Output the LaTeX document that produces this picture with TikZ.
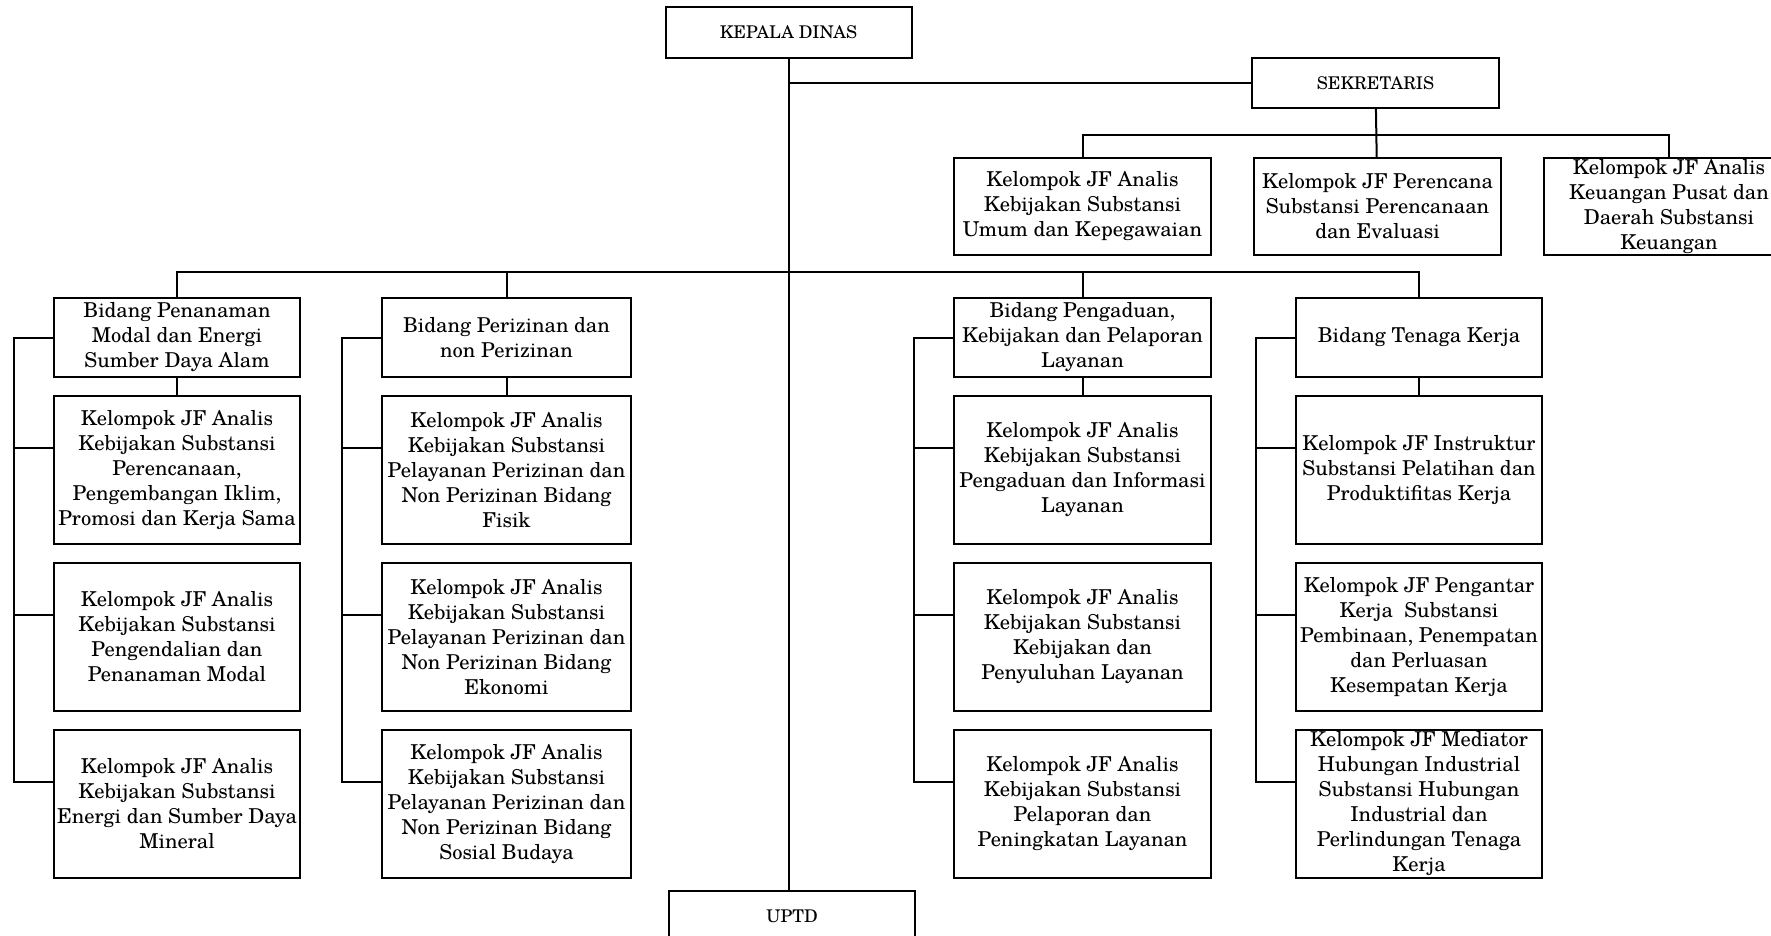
\documentclass[tikz,border=0pt]{standalone}
\usepackage{fontspec}
\setmainfont{texgyreschola}[Extension=.otf, UprightFont=*-regular, BoldFont=*-bold]
\usetikzlibrary{positioning}

\begin{document}
\begin{tikzpicture}[x=1pt,y=-1pt,line width=2pt,
  every node/.style={shape=rectangle,draw,align=center,inner sep=0pt},
  head/.style={minimum width=246pt,minimum height=51pt,font=\fontsize{17.5pt}{20pt}\selectfont},
  unit/.style={font=\fontsize{20.5pt}{25pt}\selectfont},
  bidang/.style={unit,minimum height=79pt},
  jf/.style={unit,minimum height=148pt},
  seksi/.style={unit,minimum height=97pt},
  col1/.style={minimum width=246pt},
  col2/.style={minimum width=249pt},
  col3/.style={minimum width=257pt},
  col4/.style={minimum width=246pt},
  ]
  \useasboundingbox (0,0) rectangle (1771,936);
  % create the nodes
  \node (kepala)[head] at (788.5,32.5) {KEPALA DINAS};
  \node (sek)[head, minimum width=247pt, minimum height=50pt] at (1375.5,83) {SEKRETARIS};
  \node (uptd)[head] at (792,916.5) {UPTD};

  \node (s1)[seksi, col3] at (1082.5,206.5) {Kelompok JF Analis\\Kebijakan Substansi\\Umum dan Kepegawaian};
  \node (s2)[seksi, minimum width=247pt, right=41pt of s1] {Kelompok JF Perencana\\Substansi Perencanaan\\dan Evaluasi};
  \node (s3)[seksi, minimum width=250pt, right=41pt of s2] {Kelompok JF Analis\\Keuangan Pusat dan\\Daerah Substansi\\Keuangan};

  \node (b1)[bidang, col1] at (177,337.5) {Bidang Penanaman\\Modal dan Energi\\Sumber Daya Alam};
  \node (b2)[bidang, col2, right=80pt of b1] {Bidang Perizinan dan\\non Perizinan};
  \node (b3)[bidang, col3] at (1082.5,337.5) {Bidang Pengaduan,\\Kebijakan dan Pelaporan\\Layanan};
  \node (b4)[bidang, col4, right=83pt of b3] {Bidang Tenaga Kerja};

  \node (k11)[jf, col1, below=17pt of b1] {Kelompok JF Analis\\Kebijakan Substansi\\Perencanaan,\\Pengembangan Iklim,\\Promosi dan Kerja Sama};
  \node (k12)[jf, col1, below=17pt of k11] {Kelompok JF Analis\\Kebijakan Substansi\\Pengendalian dan\\Penanaman Modal};
  \node (k13)[jf, col1, below=17pt of k12] {Kelompok JF Analis\\Kebijakan Substansi\\Energi dan Sumber Daya\\Mineral};

  \node (k21)[jf, col2, below=17pt of b2] {Kelompok JF Analis\\Kebijakan Substansi\\Pelayanan Perizinan dan\\Non Perizinan Bidang\\Fisik};
  \node (k22)[jf, col2, below=17pt of k21] {Kelompok JF Analis\\Kebijakan Substansi\\Pelayanan Perizinan dan\\Non Perizinan Bidang\\Ekonomi};
  \node (k23)[jf, col2, below=17pt of k22] {Kelompok JF Analis\\Kebijakan Substansi\\Pelayanan Perizinan dan\\Non Perizinan Bidang\\Sosial Budaya};

  \node (k31)[jf, col3, below=17pt of b3] {Kelompok JF Analis\\Kebijakan Substansi\\Pengaduan dan Informasi\\Layanan};
  \node (k32)[jf, col3, below=17pt of k31] {Kelompok JF Analis\\Kebijakan Substansi\\Kebijakan dan\\Penyuluhan Layanan};
  \node (k33)[jf, col3, below=17pt of k32] {Kelompok JF Analis\\Kebijakan Substansi\\Pelaporan dan\\Peningkatan Layanan};

  \node (k41)[jf, col4, below=17pt of b4] {Kelompok JF Instruktur\\Substansi Pelatihan dan\\Produktifitas Kerja};
  \node (k42)[jf, col4, below=17pt of k41] {Kelompok JF Pengantar\\Kerja~ Substansi\\Pembinaan, Penempatan\\dan Perluasan\\Kesempatan Kerja};
  \node (k43)[jf, col4, below=17pt of k42] {Kelompok JF Mediator\\Hubungan Industrial\\Substansi Hubungan\\Industrial dan\\Perlindungan Tenaga\\Kerja};

  \coordinate (sbus) at (1376,135);
  \coordinate (bbus) at (789,272);

  % connect the nodes
  \draw (kepala.south) -- (kepala.south |- uptd.north);
  \draw (kepala.south |- sek.west) -- (sek.west);
  \draw (sek) -- (s2);
  \draw (s1.north) -- (s1.north |- sbus) -- (s3.north |- sbus) -- (s3.north);
  \draw (b1.north) -- (b1.north |- bbus) -- (b4.north |- bbus) -- (b4.north);
  \draw (b2.north) -- (b2.north |- bbus);
  \draw (b3.north) -- (b3.north |- bbus);
  \foreach \c in {1,...,4} {
    \draw (b\c) -- (k\c1);
    \draw (b\c.west) -- ++(-39pt,0) |- ([yshift=-53pt]k\c3.north west);
    \draw ([yshift=-53pt]k\c1.north west) -- ++(-39pt,0);
    \draw ([yshift=-53pt]k\c2.north west) -- ++(-39pt,0);
  }

\end{tikzpicture}
\end{document}
